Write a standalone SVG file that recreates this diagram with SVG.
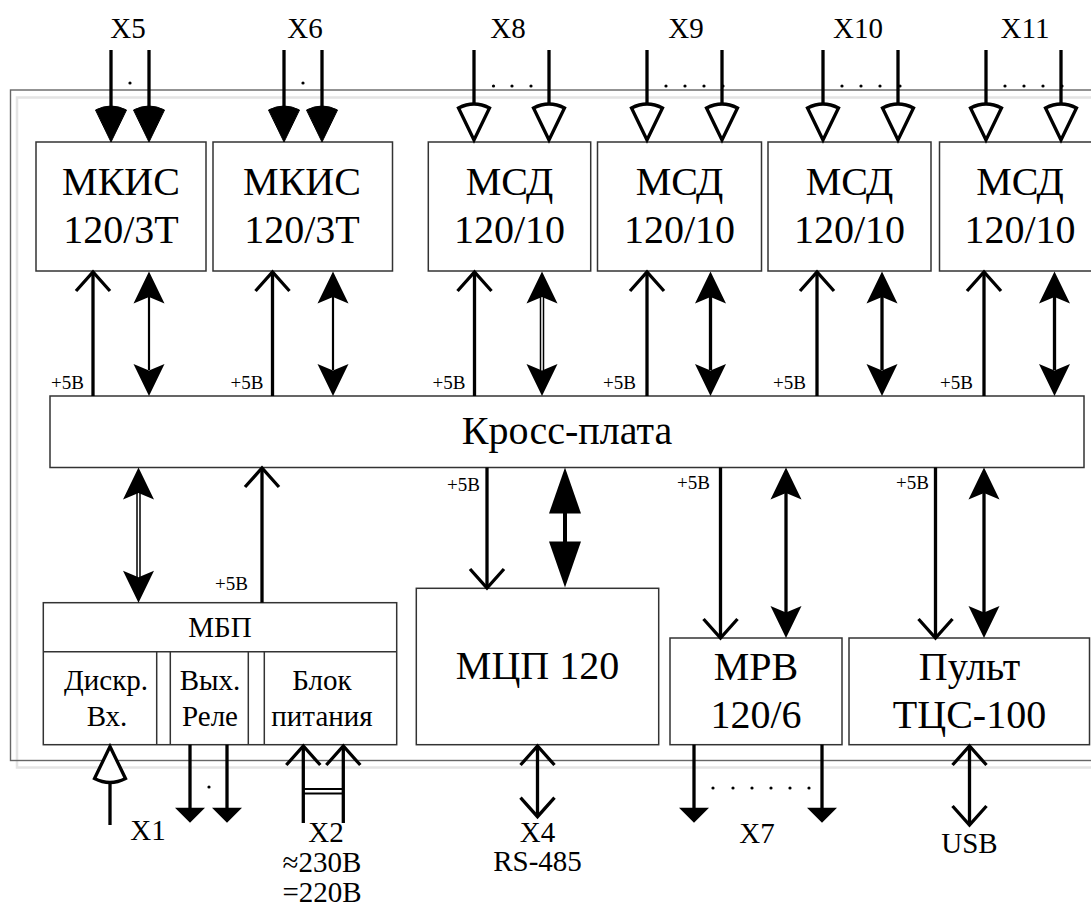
<svg xmlns="http://www.w3.org/2000/svg" xmlns:xlink="http://www.w3.org/1999/xlink" width="1091" height="908" viewBox="0 0 1091 908">
<style>
.box{fill:#fff;stroke:#333;stroke-width:1.5}
.t{font-family:"Liberation Serif","Times New Roman",Tinos,"Nimbus Roman","DejaVu Serif",serif;fill:#000;text-anchor:middle}
.big{font-size:40px}
.mid{font-size:29px}
.sm{font-size:19px;text-anchor:end}
.thick{stroke:#000;stroke-width:3.3;fill:none}
.thin{stroke:#000;stroke-width:2.2;fill:none}
.fill{fill:#000;stroke:none}
.cupo{fill:#fff;stroke:#000;stroke-width:3.3;stroke-linejoin:miter}
.cupf{fill:#000;stroke:#000;stroke-width:1}
.vh{fill:none;stroke:#000;stroke-width:3.3;stroke-linecap:butt}
.dot{fill:#000}
</style>
<defs>
<path id="cup" d="M0,0 L-15.5,-32 Q0,-40 15.5,-32 Z"/>
<path id="notch" d="M0,0 L15.5,32 L0,25.5 L-15.5,32 Z"/>
<path id="tri" d="M0,0 L-15,-15 L15,-15 Z"/>
<path id="tri46" d="M0,0 L16,46 L-16,46 Z"/>
<path id="v" d="M-17,19 L0,0 L17,19"/>
</defs>
<rect width="1091" height="908" fill="#fff"/>
<g id="frame">
<rect x="17" y="97.5" width="1100" height="670" fill="none" stroke="#e4e4e4" stroke-width="2.5"/>
<rect x="10.5" y="90" width="1100" height="670.5" fill="none" stroke="#666" stroke-width="1.4"/>
</g>
<g id="mkis1"><rect class="box" x="36" y="142" width="170" height="129"/><text class="t big" x="121" y="195">МКИС</text><text class="t big" x="121" y="243">120/3Т</text></g>
<g id="mkis2"><rect class="box" x="213" y="142" width="179.5" height="129"/><text class="t big" x="302" y="195">МКИС</text><text class="t big" x="302" y="243">120/3Т</text></g>
<g id="msd1"><rect class="box" x="428.3" y="142" width="162.4" height="129"/><text class="t big" x="509.5" y="195">МСД</text><text class="t big" x="509.5" y="243">120/10</text></g>
<g id="msd2"><rect class="box" x="597.5" y="142" width="164" height="129"/><text class="t big" x="679.5" y="195">МСД</text><text class="t big" x="679.5" y="243">120/10</text></g>
<g id="msd3"><rect class="box" x="768" y="142" width="163" height="129"/><text class="t big" x="849.5" y="195">МСД</text><text class="t big" x="849.5" y="243">120/10</text></g>
<g id="msd4"><rect class="box" x="939.5" y="142" width="162" height="129"/><text class="t big" x="1020" y="195">МСД</text><text class="t big" x="1020" y="243">120/10</text></g>
<g id="kross"><rect class="box" x="50" y="396" width="1034" height="71.5"/><text class="t big" x="567" y="444">Кросс-плата</text></g>
<g id="mbp">
<rect class="box" x="43.3" y="602.7" width="353.4" height="142"/>
<line x1="43.3" y1="651.7" x2="396.7" y2="651.7" stroke="#333" stroke-width="1.5"/>
<line x1="156.7" y1="651.7" x2="156.7" y2="744.7" stroke="#333" stroke-width="1.5"/>
<line x1="170.3" y1="651.7" x2="170.3" y2="744.7" stroke="#333" stroke-width="1.5"/>
<line x1="248.3" y1="651.7" x2="248.3" y2="744.7" stroke="#333" stroke-width="1.5"/>
<line x1="264.3" y1="651.7" x2="264.3" y2="744.7" stroke="#333" stroke-width="1.5"/>
<text class="t mid" x="220" y="637">МБП</text>
<text class="t mid" x="106" y="690">Дискр.</text><text class="t mid" x="107" y="726">Вх.</text>
<text class="t mid" x="210" y="690">Вых.</text><text class="t mid" x="210" y="726">Реле</text>
<text class="t mid" x="322" y="690">Блок</text><text class="t mid" x="322" y="726">питания</text>
</g>
<g id="mcp"><rect class="box" x="416.3" y="588.3" width="242.4" height="156.4"/><text class="t big" x="537.5" y="679">МЦП 120</text></g>
<g id="mrv"><rect class="box" x="670" y="638" width="172" height="106.7"/><text class="t big" x="756" y="680">МРВ</text><text class="t big" x="756" y="728">120/6</text></g>
<g id="pult"><rect class="box" x="849" y="638" width="240.5" height="106.7"/><text class="t big" x="969.5" y="680">Пульт</text><text class="t big" x="969.5" y="728">ТЦС-100</text></g>
<g id="connectors">
<g class="thick">
<line x1="111" y1="50" x2="111" y2="110"/><line x1="149" y1="50" x2="149" y2="110"/>
<line x1="284" y1="50" x2="284" y2="110"/><line x1="322" y1="50" x2="322" y2="110"/>
<line x1="474" y1="50" x2="474" y2="106"/><line x1="549" y1="50" x2="549" y2="106"/>
<line x1="647" y1="50" x2="647" y2="106"/><line x1="722" y1="50" x2="722" y2="106"/>
<line x1="823" y1="50" x2="823" y2="106"/><line x1="898" y1="50" x2="898" y2="106"/>
<line x1="986" y1="50" x2="986" y2="106"/><line x1="1061" y1="50" x2="1061" y2="106"/>
</g>
<use xlink:href="#cup" class="cupf" transform="translate(111,142)"/>
<use xlink:href="#cup" class="cupf" transform="translate(149,142)"/>
<use xlink:href="#cup" class="cupf" transform="translate(284,142)"/>
<use xlink:href="#cup" class="cupf" transform="translate(322,142)"/>
<use xlink:href="#cup" class="cupo" transform="translate(474,140)"/>
<use xlink:href="#cup" class="cupo" transform="translate(549,140)"/>
<use xlink:href="#cup" class="cupo" transform="translate(647,140)"/>
<use xlink:href="#cup" class="cupo" transform="translate(722,140)"/>
<use xlink:href="#cup" class="cupo" transform="translate(823,140)"/>
<use xlink:href="#cup" class="cupo" transform="translate(898,140)"/>
<use xlink:href="#cup" class="cupo" transform="translate(986,140)"/>
<use xlink:href="#cup" class="cupo" transform="translate(1061,140)"/>
<g class="dot">
<circle cx="130" cy="83" r="1.6"/><circle cx="303" cy="83" r="1.6"/>
<circle cx="493.5" cy="86" r="1.6"/><circle cx="512" cy="86" r="1.6"/><circle cx="531" cy="86" r="1.6"/>
<circle cx="666" cy="86" r="1.6"/><circle cx="685" cy="86" r="1.6"/><circle cx="704" cy="86" r="1.6"/><circle cx="723" cy="86" r="1.6"/>
<circle cx="842" cy="86" r="1.6"/><circle cx="861" cy="86" r="1.6"/><circle cx="880" cy="86" r="1.6"/><circle cx="900" cy="86" r="1.6"/>
<circle cx="1005" cy="86" r="1.6"/><circle cx="1024" cy="86" r="1.6"/><circle cx="1043" cy="86" r="1.6"/><circle cx="1062" cy="86" r="1.6"/>
</g>
<g class="thick">
<line x1="93" y1="396" x2="93" y2="271.5"/><line x1="272.5" y1="396" x2="272.5" y2="271.5"/>
<line x1="474.5" y1="396" x2="474.5" y2="271.5"/><line x1="647" y1="396" x2="647" y2="271.5"/>
<line x1="817" y1="396" x2="817" y2="271.5"/><line x1="984" y1="396" x2="984" y2="271.5"/>
<line x1="710.5" y1="296" x2="710.5" y2="370"/><line x1="882" y1="296" x2="882" y2="370"/><line x1="1054.5" y1="296" x2="1054.5" y2="370"/>
</g>
<g class="vh">
<use xlink:href="#v" transform="translate(93,272)"/><use xlink:href="#v" transform="translate(272.5,272)"/>
<use xlink:href="#v" transform="translate(474.5,272)"/><use xlink:href="#v" transform="translate(647,272)"/>
<use xlink:href="#v" transform="translate(817,272)"/><use xlink:href="#v" transform="translate(984,272)"/>
</g>
<line class="thin" x1="149" y1="296" x2="149" y2="370"/>
<line class="thin" x1="333" y1="296" x2="333" y2="370"/>
<line x1="542" y1="296" x2="542" y2="370" stroke="#000" stroke-width="4.5"/>
<line x1="542" y1="296" x2="542" y2="370" stroke="#fff" stroke-width="1.5"/>
<g class="fill">
<use xlink:href="#notch" transform="translate(149,271.5)"/><use xlink:href="#notch" transform="translate(149,396) rotate(180)"/>
<use xlink:href="#notch" transform="translate(333,271.5)"/><use xlink:href="#notch" transform="translate(333,396) rotate(180)"/>
<use xlink:href="#notch" transform="translate(542,271.5)"/><use xlink:href="#notch" transform="translate(542,396) rotate(180)"/>
<use xlink:href="#notch" transform="translate(710.5,271.5)"/><use xlink:href="#notch" transform="translate(710.5,396) rotate(180)"/>
<use xlink:href="#notch" transform="translate(882,271.5)"/><use xlink:href="#notch" transform="translate(882,396) rotate(180)"/>
<use xlink:href="#notch" transform="translate(1054.5,271.5)"/><use xlink:href="#notch" transform="translate(1054.5,396) rotate(180)"/>
</g>
<line x1="138.5" y1="492" x2="138.5" y2="578" stroke="#000" stroke-width="4.5"/>
<line x1="138.5" y1="492" x2="138.5" y2="578" stroke="#fff" stroke-width="1.5"/>
<g class="fill">
<use xlink:href="#notch" transform="translate(138.5,467.5)"/><use xlink:href="#notch" transform="translate(138.5,602.7) rotate(180)"/>
<use xlink:href="#notch" transform="translate(786,467.5)"/><use xlink:href="#notch" transform="translate(786,638) rotate(180)"/>
<use xlink:href="#notch" transform="translate(984,467.5)"/><use xlink:href="#notch" transform="translate(984,638) rotate(180)"/>
<use xlink:href="#tri46" transform="translate(565,467.5)"/><use xlink:href="#tri46" transform="translate(565,587.5) rotate(180)"/>
</g>
<g class="thick">
<line x1="262" y1="602.7" x2="262" y2="468"/>
<line x1="487" y1="467.5" x2="487" y2="587"/>
<line x1="720.5" y1="467.5" x2="720.5" y2="637"/>
<line x1="935.5" y1="467.5" x2="935.5" y2="637"/>
<line x1="786" y1="490" x2="786" y2="615"/>
<line x1="984" y1="490" x2="984" y2="615"/>
<line x1="565" y1="510" x2="565" y2="545" stroke-width="4"/>
</g>
<g class="vh">
<use xlink:href="#v" transform="translate(262,468)"/>
<use xlink:href="#v" transform="translate(487,588) rotate(180)"/>
<use xlink:href="#v" transform="translate(720.5,638) rotate(180)"/>
<use xlink:href="#v" transform="translate(935.5,638) rotate(180)"/>
</g>
<line class="thick" x1="110" y1="780" x2="110" y2="825"/>
<use xlink:href="#cup" class="cupo" transform="translate(110,746.5) rotate(180)"/>
<g class="thick">
<line x1="190" y1="744.7" x2="190" y2="810"/><line x1="227" y1="744.7" x2="227" y2="810"/>
<line x1="303.3" y1="746" x2="303.3" y2="823"/><line x1="343.3" y1="746" x2="343.3" y2="823"/>
<line x1="537.5" y1="746" x2="537.5" y2="816"/>
<line x1="694" y1="744.7" x2="694" y2="810"/><line x1="822" y1="744.7" x2="822" y2="810"/>
<line x1="969.5" y1="746" x2="969.5" y2="824"/>
</g>
<g stroke="#000" stroke-width="2"><line x1="303.3" y1="789" x2="343.3" y2="789"/><line x1="303.3" y1="793.5" x2="343.3" y2="793.5"/></g>
<g class="fill">
<use xlink:href="#tri" transform="translate(190,822.7)"/><use xlink:href="#tri" transform="translate(227,822.7)"/>
<use xlink:href="#tri" transform="translate(694,822.7)"/><use xlink:href="#tri" transform="translate(822,822.7)"/>
</g>
<g class="vh">
<use xlink:href="#v" transform="translate(303.3,746)"/><use xlink:href="#v" transform="translate(343.3,746)"/>
<use xlink:href="#v" transform="translate(537.5,746)"/><use xlink:href="#v" transform="translate(537.5,816.7) rotate(180)"/>
<use xlink:href="#v" transform="translate(969.5,746)"/><use xlink:href="#v" transform="translate(969.5,825) rotate(180)"/>
</g>
<g class="dot">
<circle cx="209" cy="787" r="1.6"/>
<circle cx="713" cy="788" r="1.6"/><circle cx="733" cy="788" r="1.6"/><circle cx="752" cy="788" r="1.6"/><circle cx="771" cy="788" r="1.6"/><circle cx="790" cy="788" r="1.6"/><circle cx="809" cy="788" r="1.6"/>
</g>
</g>
<g id="labels">
<text class="t mid" x="128" y="38">X5</text>
<text class="t mid" x="305" y="38">X6</text>
<text class="t mid" x="508" y="38">X8</text>
<text class="t mid" x="686" y="38">X9</text>
<text class="t mid" x="858" y="38">X10</text>
<text class="t mid" x="1025" y="38">X11</text>
<text class="t sm" x="84" y="389">+5В</text>
<text class="t sm" x="263.5" y="389">+5В</text>
<text class="t sm" x="465.5" y="389">+5В</text>
<text class="t sm" x="636" y="389">+5В</text>
<text class="t sm" x="806" y="389">+5В</text>
<text class="t sm" x="973" y="389">+5В</text>
<text class="t sm" x="248" y="590">+5В</text>
<text class="t sm" x="480" y="491">+5В</text>
<text class="t sm" x="710" y="489">+5В</text>
<text class="t sm" x="929" y="489">+5В</text>
<text class="t mid" x="148" y="840">X1</text>
<text class="t mid" x="326" y="842">X2</text>
<text class="t mid" x="322" y="872">≈230В</text>
<text class="t mid" x="322" y="902">=220В</text>
<text class="t mid" x="537.5" y="842">X4</text>
<text class="t mid" x="537.5" y="871">RS-485</text>
<text class="t mid" x="757" y="843">X7</text>
<text class="t mid" x="969.5" y="853">USB</text>
</g>
</svg>
